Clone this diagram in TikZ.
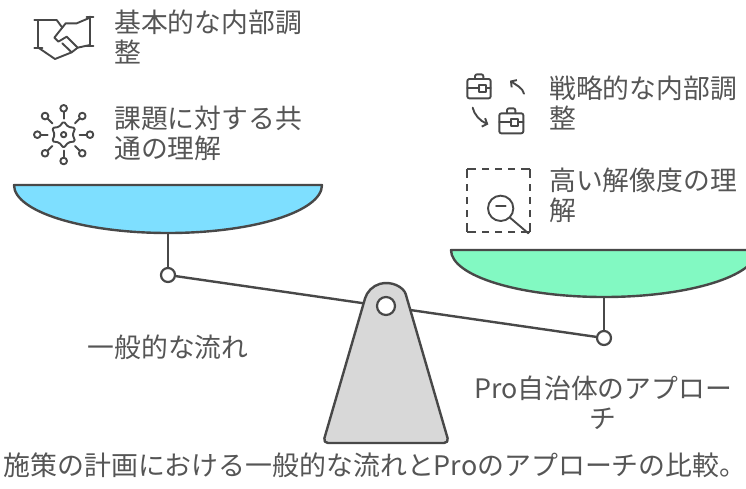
\documentclass[tikz,border=0pt]{standalone}
\usepackage{fontspec}
\setmainfont{Noto Sans CJK JP}
\usetikzlibrary{arrows.meta}
\definecolor{ink}{HTML}{484848}
\definecolor{txt}{HTML}{555555}
\definecolor{panblue}{HTML}{7EDFFF}
\definecolor{pangreen}{HTML}{82F9C2}
\definecolor{standgray}{HTML}{D8D8D8}

\begin{document}
\begin{tikzpicture}[x=1pt,y=-1pt,
  outline/.style={draw=ink, line width=2.4pt, line join=round},
  icon/.style={draw=ink, line width=1.9pt, line join=round, line cap=round},
  hook/.style={circle, draw=ink, fill=white, line width=2.2pt, minimum size=14pt, inner sep=0pt},
  label/.style={text=txt, font=\fontsize{26.8}{30}\selectfont, inner sep=0pt, align=left, anchor=north west},
  clabel/.style={text=txt, font=\fontsize{26.8}{30}\selectfont, inner sep=0pt, align=center, anchor=north},
  barb/.style={-{Straight Barb[length=4pt,width=9pt]}},
]
\useasboundingbox (0,0) rectangle (746,488);
\clip (0,0) rectangle (746,488);

% ---- pans ----
\path[outline, fill=panblue] (14,185) -- (322,185)
  arc[start angle=0, end angle=180, x radius=154, y radius=48] -- cycle;
\path[outline, fill=pangreen] (451,250) -- (757,250)
  arc[start angle=0, end angle=180, x radius=153, y radius=47] -- cycle;
\coordinate (lpan) at (168,233);
\coordinate (rpan) at (604,297);

% ---- hooks and beam ----
\node[hook] (lhook) at (168,275) {};
\node[hook] (rhook) at (604,338) {};
\draw[outline] (lpan) -- (lhook);
\draw[outline] (rpan) -- (rhook);
\draw[outline] (lhook) -- (rhook);

% ---- fulcrum ----
\path[outline, fill=standgray, rounded corners=5pt]
  (364.9,298.9) -- (323,443) -- (449,443) -- (407.1,298.9)
  [sharp corners] arc[start angle=-16.1, end angle=-163.9, radius=22] -- cycle;
\node[hook, minimum size=18pt] (pivot) at (386,306) {};

% ---- labels ----
\node[label] (basic) at (114,10) {基本的な内部調\\整};
\node[label] (common) at (114,106) {課題に対する共\\通の理解};
\node[label] (strategic) at (549,76) {戦略的な内部調\\整};
\node[label] (resolution) at (549,168) {高い解像度の理\\解};
\node[clabel] (general) at (168,335) {一般的な流れ};
\node[clabel] (pro) at (603,376) {Pro自治体のアプロー\\チ};
\node[clabel, font=\fontsize{26.9}{30}\selectfont] (caption) at (375,453) {施策の計画における一般的な流れとProのアプローチの比較。};

% ---- handshake icon ----
\begin{scope}[shift={(25,5)}, scale=0.3333]
  \draw[icon] (28,45) -- (52,45) (40,45) -- (40,128) (28,128) -- (52,128);
  \draw[icon] (185,35) -- (205,35) (195,35) -- (195,122) (185,122) -- (205,122);
  \draw[icon] (40,45) -- (95,45) -- (112,68);
  \draw[icon] (195,38) -- (155,55) -- (122,55) -- (88,98) -- (100,110) -- (125,95) -- (158,128) -- (195,120);
  \draw[icon] (40,128) -- (90,162) -- (140,142) -- (112,115);
  \draw[icon] (140,142) -- (158,128);
\end{scope}

% ---- network icon ----
\begin{scope}[shift={(28,98)}, scale=0.3333]
  \begin{scope}[shift={(107,110)}]
    \draw[icon, rounded corners=1.5pt] (90:40) -- (120:27) -- (150:40) -- (180:27) -- (210:40) -- (240:27)
      -- (270:40) -- (300:27) -- (330:40) -- (0:27) -- (30:40) -- (60:27) -- cycle;
    \draw[icon] (0,0) circle[radius=8];
    \foreach \a in {0,45,...,315} {
      \draw[icon] (\a:48) -- (\a:68);
      \draw[icon] (\a:79) circle[radius=10];
    }
  \end{scope}
\end{scope}

% ---- briefcase exchange icon ----
\begin{scope}[shift={(460,65)}, scale=0.3333]
  \draw[icon, rounded corners=2pt] (22,42) rectangle (92,100);
  \draw[icon, rounded corners=2pt] (45,42) -- (45,28) -- (70,28) -- (70,42);
  \draw[icon] (22,68) -- (58,68) (78,68) -- (92,68);
  \draw[icon] (58,61) rectangle (78,80);
  \draw[icon, rounded corners=2pt] (118,145) rectangle (190,205);
  \draw[icon, rounded corners=2pt] (141,145) -- (141,130) -- (166,130) -- (166,145);
  \draw[icon] (118,170) -- (154,170) (174,170) -- (190,170);
  \draw[icon] (154,163) rectangle (174,182);
  \draw[icon, barb] (192,86) .. controls (188,68) and (168,60) .. (150,47);
  \draw[icon, barb] (38,128) .. controls (42,148) and (60,168) .. (85,178);
\end{scope}

% ---- magnifier icon ----
\foreach \s/\e in {{(467.3,169.3)}/{(530,169.3)}, {(530,169.3)}/{(530,231.7)},
                   {(530,231.7)}/{(467.3,231.7)}, {(467.3,231.7)}/{(467.3,169.3)}}
  \draw[icon, line cap=butt, dash pattern=on 9pt off 6pt on 7pt off 6pt on 7pt off 6pt on 7pt off 6pt on 9pt] \s -- \e;
\begin{scope}[shift={(460,160)}, scale=0.3333]
  \draw[icon] (122,145) circle[radius=38];
  \draw[icon] (108,138) -- (137,138);
  \draw[icon] (150,173) -- (205,220);
\end{scope}
\end{tikzpicture}
\end{document}
